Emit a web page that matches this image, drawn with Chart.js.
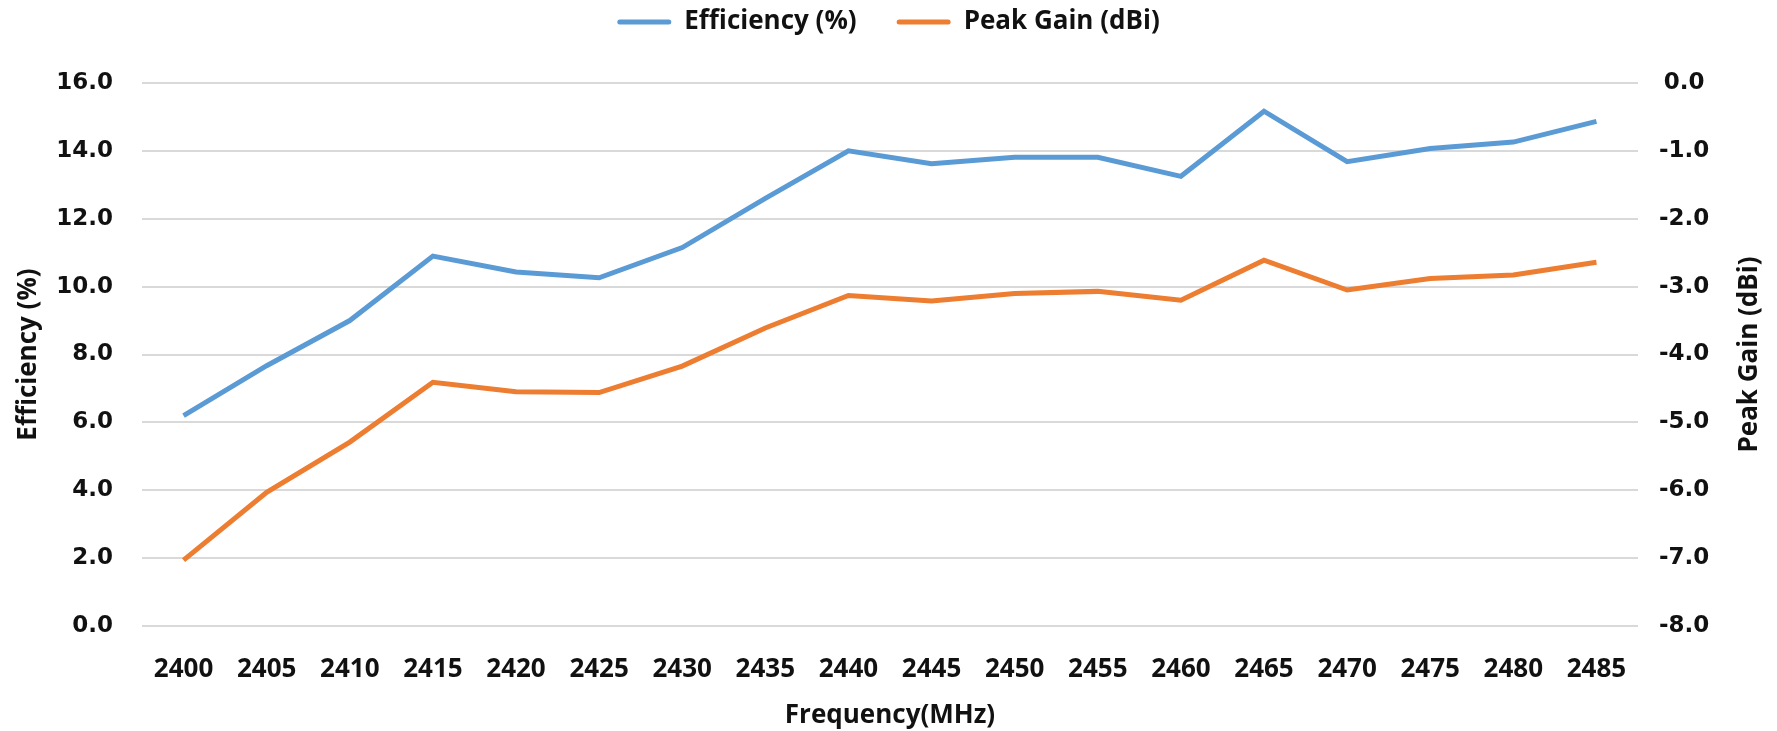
<!DOCTYPE html>
<html>
<head>
<meta charset="utf-8">
<script src="https://cdn.jsdelivr.net/npm/chart.js@4/dist/chart.umd.min.js"></script>
<style>
  html, body { margin: 0; padding: 0; background: #fff; }
  #wrap { width: 1777px; height: 731px; position: relative; }
</style>
</head>
<body>
<div id="wrap"><canvas id="chart"></canvas></div>
<script>
const frequencies = ["2400", "2405", "2410", "2415", "2420", "2425", "2430", "2435", "2440",
  "2445", "2450", "2455", "2460", "2465", "2470", "2475", "2480", "2485"];
const efficiency = [6.2, 7.67, 9.0, 10.9, 10.43, 10.26, 11.15, 12.6, 14.0,
  13.62, 13.81, 13.81, 13.25, 15.17, 13.68, 14.07, 14.26, 14.87];
const peakGain = [-7.03, -6.03, -5.29, -4.41, -4.55, -4.56, -4.17, -3.61, -3.13,
  -3.21, -3.1, -3.07, -3.2, -2.61, -3.05, -2.88, -2.83, -2.64];

const blue = "#5B9BD5";
const orange = "#ED7D31";
const gridColor = "#D9D9D9";
const textColor = "#111";
const titleFont = "'Open Sans', sans-serif";
const tickFont = "'DejaVu Sans', sans-serif";

// rotated axis titles, both reading bottom to top like the original
const axisTitles = {
  id: "axisTitles",
  afterDraw(chart) {
    const { ctx, chartArea } = chart;
    const midY = (chartArea.top + chartArea.bottom) / 2;
    ctx.save();
    ctx.fillStyle = textColor;
    ctx.font = "bold 26px " + titleFont;
    ctx.textAlign = "center";
    ctx.textBaseline = "middle";
    [["Efficiency (%)", 29], ["Peak Gain (dBi)", 1750]].forEach(([text, x]) => {
      ctx.save();
      ctx.translate(x, midY);
      ctx.rotate(-Math.PI / 2);
      ctx.fillText(text, 0, 0);
      ctx.restore();
    });
    ctx.restore();
  },
};

// pull the legend up and keep the plot top where it belongs
const legendGap = {
  id: "legendGap",
  beforeLayout(chart) {
    const legend = chart.legend;
    if (!legend || legend._gapPatched) return;
    const fit = legend.fit.bind(legend);
    legend.fit = function () {
      fit();
      this.height += 38;
    };
    legend._gapPatched = true;
  },
};

new Chart(document.getElementById("chart"), {
  type: "line",
  data: {
    labels: frequencies,
    datasets: [
      {
        label: "Efficiency (%)",
        data: efficiency,
        yAxisID: "y",
        borderColor: blue,
        backgroundColor: blue,
        borderWidth: 5,
        pointRadius: 0,
        tension: 0,
      },
      {
        label: "Peak Gain (dBi)",
        data: peakGain,
        yAxisID: "y1",
        borderColor: orange,
        backgroundColor: orange,
        borderWidth: 5,
        pointRadius: 0,
        tension: 0,
      },
    ],
  },
  options: {
    responsive: true,
    maintainAspectRatio: false,
    devicePixelRatio: 1,
    animation: false,
    layout: { padding: { top: -31, left: 0, right: 0, bottom: 0 } },
    plugins: {
      tooltip: { enabled: false },
      legend: {
        position: "top",
        labels: {
          color: textColor,
          font: { family: titleFont, size: 26, weight: "bold" },
          boxWidth: 54,
          boxHeight: 5,
          padding: 40,
          useBorderRadius: true,
          borderRadius: 2.5,
          generateLabels(chart) {
            return Chart.defaults.plugins.legend.labels.generateLabels(chart).map((item) => {
              item.lineWidth = 0;
              return item;
            });
          },
        },
      },
    },
    scales: {
      x: {
        offset: true,
        grid: { display: false },
        border: { display: false },
        ticks: {
          color: textColor,
          font: { family: titleFont, size: 26, weight: "bold" },
          padding: 20,
          autoSkip: false,
          maxRotation: 0,
        },
        title: {
          display: true,
          text: "Frequency(MHz)",
          color: textColor,
          font: { family: titleFont, size: 26, weight: "bold" },
          padding: { top: 0, bottom: 0 },
        },
        afterFit(scale) { scale.height = 105; },
      },
      y: {
        position: "left",
        min: 0,
        max: 16,
        grid: { color: gridColor, lineWidth: 2, drawTicks: false },
        border: { display: false },
        ticks: {
          stepSize: 2,
          color: textColor,
          font: { family: tickFont, size: 23, weight: "bold" },
          padding: 29,
          callback: (v) => Number(v).toFixed(1),
        },
        afterFit(scale) { scale.width = 142; },
      },
      y1: {
        position: "right",
        min: -8,
        max: 0,
        grid: { display: false, drawTicks: false },
        border: { display: false },
        ticks: {
          stepSize: 1,
          color: textColor,
          crossAlign: "center",
          font: { family: tickFont, size: 23, weight: "bold" },
          padding: 21,
          callback: (v) => Number(v).toFixed(1),
        },
        afterFit(scale) { scale.width = 139; },
      },
    },
  },
  plugins: [axisTitles, legendGap],
});
</script>
</body>
</html>
